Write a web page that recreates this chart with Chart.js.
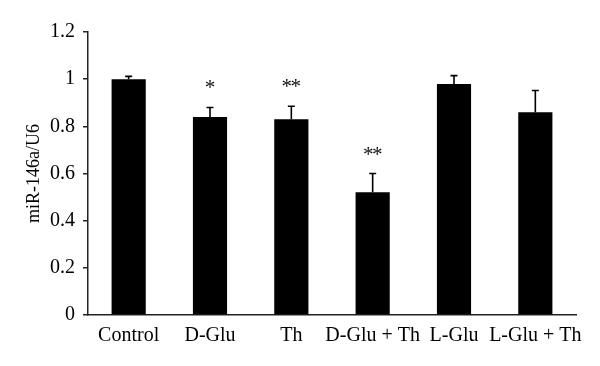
<!DOCTYPE html>
<html>
<head>
<meta charset="utf-8">
<script src="https://cdn.jsdelivr.net/npm/chart.js@4.4.0/dist/chart.umd.min.js"></script>
<style>
html,body{margin:0;padding:0;background:#fff;}
#wrap{width:600px;height:366px;position:relative;}
</style>
</head>
<body>
<div id="wrap"><canvas id="c" width="600" height="366"></canvas></div>
<script>
const categories = ["Control", "D-Glu", "Th", "D-Glu + Th", "L-Glu", "L-Glu + Th"];
const values = [1.00, 0.84, 0.83, 0.52, 0.98, 0.86];
const errors = [0.012, 0.04, 0.055, 0.08, 0.035, 0.092];
const sigLabels = ["", "*", "**", "**", "", ""];
const yTicks = [0, 0.2, 0.4, 0.6, 0.8, 1, 1.2];

const FONT = "'Liberation Serif', 'Times New Roman', serif";

const errorPlugin = {
  id: 'errorBars',
  afterDatasetsDraw(chart) {
    const ctx = chart.ctx;
    const meta = chart.getDatasetMeta(0);
    const ys = chart.scales.y;
    ctx.save();
    ctx.strokeStyle = '#000';
    ctx.lineWidth = 1.6;
    meta.data.forEach((bar, i) => {
      const x = bar.x;
      const y0 = ys.getPixelForValue(values[i]);
      const y1 = ys.getPixelForValue(values[i] + errors[i]);
      ctx.beginPath();
      ctx.moveTo(x, y0);
      ctx.lineTo(x, y1);
      ctx.moveTo(x - 3.5, y1);
      ctx.lineTo(x + 3.5, y1);
      ctx.stroke();
      const s = sigLabels[i];
      if (s) {
        ctx.fillStyle = '#111';
        ctx.font = "21px " + FONT;
        ctx.textAlign = 'center';
        ctx.textBaseline = 'alphabetic';
        const n = s.length;
        const step = 9;
        for (let k = 0; k < n; k++) {
          const cx = x + (k - (n - 1) / 2) * step;
          ctx.fillText('*', cx, y1 - 13);
        }
      }
    });
    ctx.restore();
  }
};

new Chart(document.getElementById('c'), {
  type: 'bar',
  data: {
    labels: categories,
    datasets: [{
      data: values,
      backgroundColor: '#000',
      borderWidth: 0,
      categoryPercentage: 1.0,
      barPercentage: 0.42
    }]
  },
  plugins: [errorPlugin],
  options: {
    responsive: false,
    animation: false,
    layout: { padding: { top: 32, right: 24, left: 0, bottom: 0 } },
    plugins: { legend: { display: false }, tooltip: { enabled: false } },
    scales: {
      x: {
        grid: { display: false },
        border: { display: true, color: '#222', width: 1.5 },
        ticks: { color: '#000', font: { family: FONT, size: 20 }, padding: 1, maxRotation: 0, autoSkip: false },
        afterFit(scale) { scale.height = 51; }
      },
      y: {
        min: 0, max: 1.2,
        afterBuildTicks(scale) { scale.ticks = yTicks.map(v => ({ value: v })); },
        grid: { display: true, drawOnChartArea: false, drawTicks: true, tickLength: 5, color: '#222', lineWidth: 1.5 },
        border: { display: true, color: '#222', width: 1.5 },
        ticks: {
          color: '#000', font: { family: FONT, size: 20 }, padding: 8,
          callback: (v) => String(Number(v.toFixed(1)))
        },
        title: { display: true, text: 'miR-146a/U6', color: '#000', font: { family: FONT, size: 18 }, padding: { top: 23, bottom: 0 } },
        afterFit(scale) { scale.width = 88; }
      }
    }
  }
});
</script>
</body>
</html>
